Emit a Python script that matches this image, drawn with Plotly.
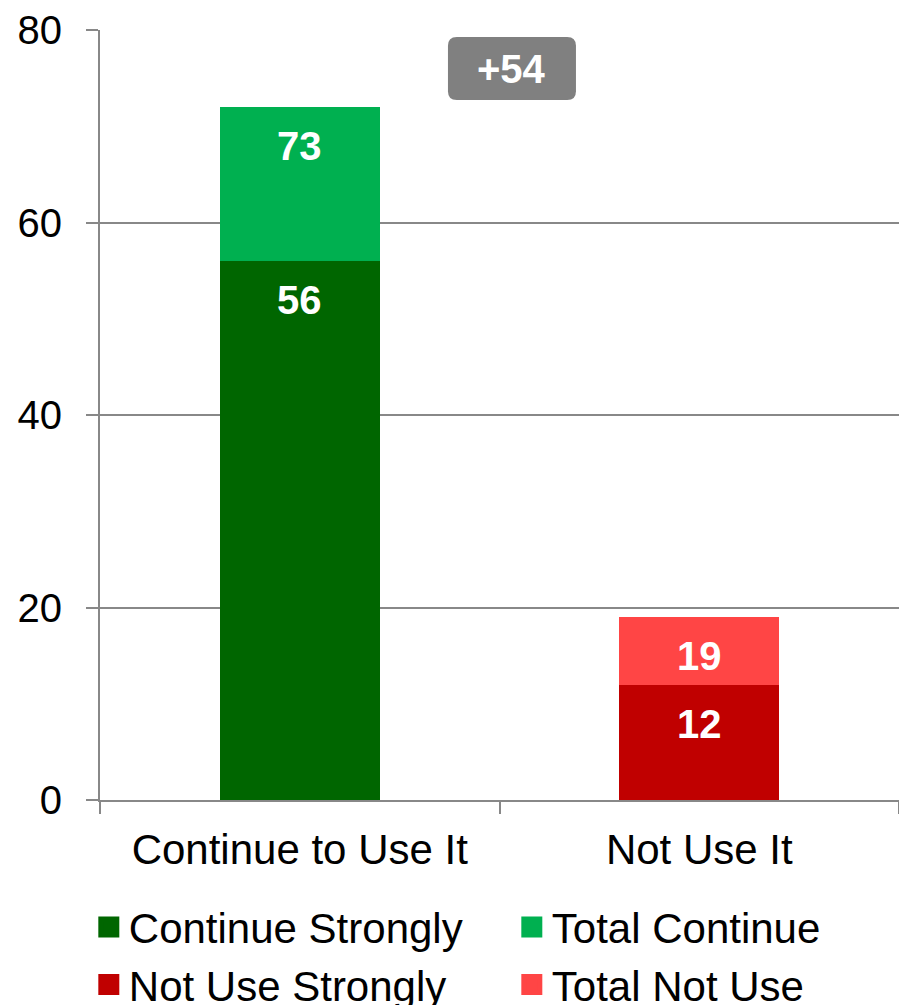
import plotly.graph_objects as go

categories = ["Continue to Use It", "Not Use It"]
strongly = [56, 12]            # strongly segment tops
totals = [72, 19]              # total bar tops as drawn
strong_labels = ["56", "12"]
total_labels = ["73", "19"]
net_label = "+54"

strong_names = ["Continue Strongly", "Not Use Strongly"]
total_names = ["Total Continue", "Total Not Use"]
strong_colors = ["#006600", "#C00000"]
total_colors = ["#00B050", "#FF4545"]

FONT = "Liberation Sans, Arial, sans-serif"

fig = go.Figure()
for i, cat in enumerate(categories):
    fig.add_trace(go.Bar(
        x=[cat], y=[strongly[i]], name=strong_names[i],
        marker=dict(color=strong_colors[i], line=dict(width=0)),
        width=0.4, showlegend=False,
    ))
    fig.add_trace(go.Bar(
        x=[cat], y=[totals[i] - strongly[i]], base=[strongly[i]], name=total_names[i],
        marker=dict(color=total_colors[i], line=dict(width=0)),
        width=0.4, showlegend=False,
    ))

# legend entries (square swatches)
for i in range(len(categories)):
    for nm, col in ((strong_names[i], strong_colors[i]), (total_names[i], total_colors[i])):
        fig.add_trace(go.Scatter(
            x=[None], y=[None], mode="markers", name=nm,
            marker=dict(symbol="square", size=20, color=col, line=dict(width=6, color=col)),
        ))

for i, cat in enumerate(categories):
    for val, lab in ((strongly[i], strong_labels[i]), (totals[i], total_labels[i])):
        fig.add_annotation(
            x=cat, y=val, xref="x", yref="y", text=f"<b>{lab}</b>",
            showarrow=False, yanchor="top", yshift=-15,
            font=dict(family=FONT, size=40, color="white"),
        )

# rounded grey box for net score
x0, x1, y0, y1 = 0.4355, 0.5957, 0.909, 0.991
rx, ry = 0.011, 0.0115
path = (f"M{x0+rx},{y0} L{x1-rx},{y0} Q{x1},{y0} {x1},{y0+ry} "
        f"L{x1},{y1-ry} Q{x1},{y1} {x1-rx},{y1} L{x0+rx},{y1} "
        f"Q{x0},{y1} {x0},{y1-ry} L{x0},{y0+ry} Q{x0},{y0} {x0+rx},{y0} Z")
fig.add_shape(type="path", path=path, xref="paper", yref="paper",
              fillcolor="#808080", line=dict(width=0), layer="above")
fig.add_annotation(
    x=(x0 + x1) / 2, y=(y0 + y1) / 2, xref="paper", yref="paper", text=f"<b>{net_label}</b>",
    showarrow=False, xanchor="center", yanchor="middle",
    font=dict(family=FONT, size=40, color="white"),
)

fig.update_layout(
    barmode="stack",
    width=899, height=997,
    margin=dict(l=92, r=8, t=22, b=205, autoexpand=False),
    plot_bgcolor="white", paper_bgcolor="white",
    font=dict(family=FONT, size=42, color="black"),
    showlegend=True,
    legend=dict(
        orientation="h", x=-0.014, xanchor="left", y=-0.121, yanchor="top",
        entrywidth=378, entrywidthmode="pixels", traceorder="normal",
        font=dict(family=FONT, size=42, color="black"),
        itemclick=False, tracegroupgap=0, itemsizing="trace",
    ),
    xaxis=dict(
        showline=True, linecolor="#888888", linewidth=2, automargin=False,
        ticks="outside", tickson="boundaries", ticklen=12, tickcolor="#888888", tickwidth=2,
        showgrid=False, ticklabelstandoff=12,
        tickfont=dict(family=FONT, size=42, color="black"),
    ),
    yaxis=dict(
        range=[0, 80], tickvals=[0, 20, 40, 60, 80], automargin=False,
        showline=True, linecolor="#888888", linewidth=2,
        showgrid=True, gridcolor="#888888", gridwidth=2,
        ticks="outside", ticklen=12, tickcolor="#888888", tickwidth=2,
        zeroline=False, ticklabelstandoff=16,
        tickfont=dict(family=FONT, size=40, color="black"),
    ),
)

fig.write_html("out.html")
